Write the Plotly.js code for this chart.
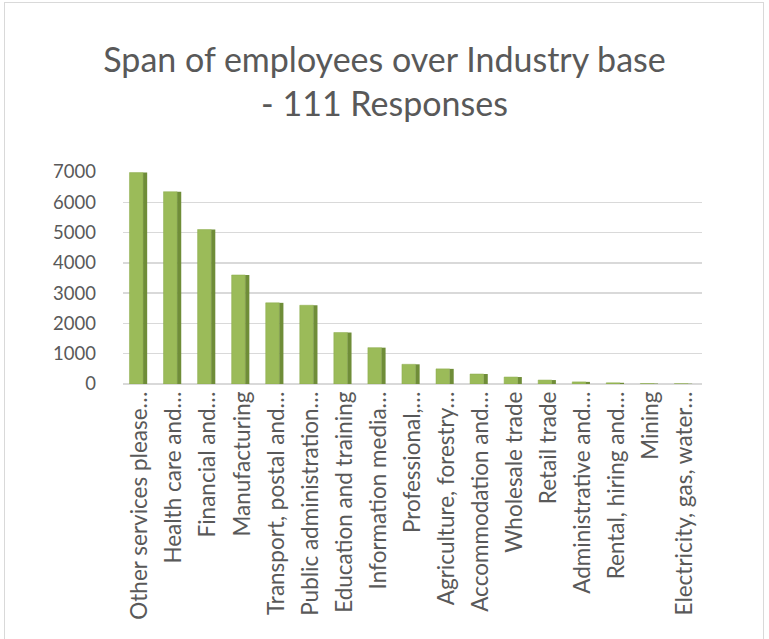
<!DOCTYPE html>
<html>
<head>
<meta charset="utf-8">
<script src="https://cdn.plot.ly/plotly-3.0.1.min.js"></script>
<style>
html,body{margin:0;padding:0;background:#fff;}
#wrap{position:relative;width:769px;height:639px;}
#chart{width:769px;height:639px;}
#frame{position:absolute;left:4px;top:2px;width:760px;height:640px;border:1px solid #d9d9d9;border-bottom:none;pointer-events:none;box-sizing:border-box;}
</style>
</head>
<body>
<div id="wrap"><div id="chart"></div><div id="frame"></div></div>
<script>
const categories = [
  "Other services please…",
  "Health care and…",
  "Financial and…",
  "Manufacturing",
  "Transport, postal and…",
  "Public administration…",
  "Education and training",
  "Information media…",
  "Professional,…",
  "Agriculture, forestry…",
  "Accommodation and…",
  "Wholesale trade",
  "Retail trade",
  "Administrative and…",
  "Rental, hiring and…",
  "Mining",
  "Electricity, gas, water…"
];
const employees = [6980, 6350, 5100, 3600, 2680, 2600, 1700, 1200, 650, 500, 330, 230, 130, 70, 40, 15, 10];
const yTicks = [0, 1000, 2000, 3000, 4000, 5000, 6000, 7000];

const textColor = "#595959";
const font = "Lato, 'Open Sans', sans-serif";

const front = {
  type: "bar", x: categories, y: employees,
  marker: {color: "#9bbb59", line: {color: "#8aab4a", width: 0.5}},
  offset: -0.31, width: 0.40, hoverinfo: "x+y"
};
const side = {
  type: "bar", x: categories, y: employees,
  marker: {color: "#6f8d38", line: {width: 0}},
  offset: 0.09, width: 0.12, hoverinfo: "skip"
};

const layout = {
  width: 769, height: 639,
  paper_bgcolor: "#fff", plot_bgcolor: "#fff",
  showlegend: false,
  barmode: "overlay",
  margin: {l: 123, r: 67, t: 172, b: 255},
  title: {
    text: "Span of employees over Industry base<br>- 111 Responses",
    font: {family: font, size: 34, color: textColor},
    x: 0.5, xanchor: "center", yref: "container", y: 0.888, yanchor: "middle"
  },
  xaxis: {
    type: "category", tickangle: -90,
    tickfont: {family: font, size: 22.5, color: textColor},
    showgrid: false, showline: false, ticks: "", zeroline: false,
    ticklabelstandoff: 2
  },
  yaxis: {
    range: [0, 7000], tickvals: yTicks,
    tickfont: {family: font, size: 18.5, color: textColor},
    showgrid: true, gridcolor: "#d9d9d9", gridwidth: 1.5,
    zeroline: true, zerolinecolor: "#d9d9d9", zerolinewidth: 1.5,
    showline: false, ticks: "", ticklabelstandoff: 26
  }
};

Plotly.newPlot("chart", [front, side], layout, {displayModeBar: false, staticPlot: true});
</script>
</body>
</html>
